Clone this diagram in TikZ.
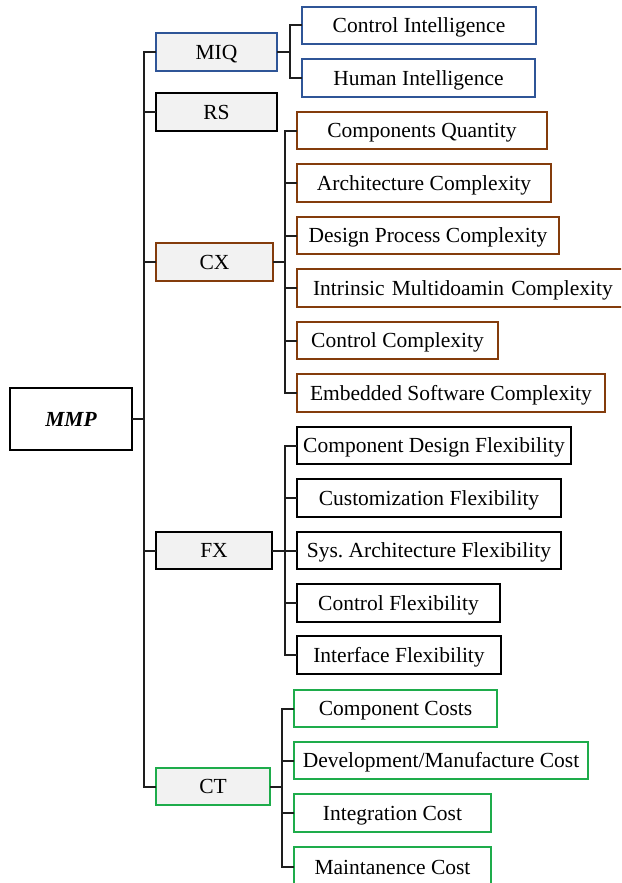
\documentclass[tikz,border=0pt]{standalone}
\usepackage{fontspec}
\setmainfont{Liberation Serif}
\frenchspacing
\definecolor{cblue}{RGB}{47,85,151}
\definecolor{cbrown}{RGB}{132,60,12}
\definecolor{cgreen}{RGB}{30,172,75}
\definecolor{cgray}{RGB}{242,242,242}
\definecolor{cline}{RGB}{30,30,30}
\begin{document}
\begin{tikzpicture}[x=1pt,y=-1pt,
  every node/.style={font=\fontsize{21.5}{25}\selectfont, inner sep=0pt, outer sep=0pt,
    text=black, text height=14.3pt, text depth=0pt},
  base/.style={draw, line width=1.7pt, rectangle, minimum height=37.5},
  lvl/.style={base, fill=cgray, minimum width=#1},
  leaf/.style={base, fill=white, minimum width=#1},
  conn/.style={draw=cline, line width=2pt}]
\useasboundingbox (0,0) rectangle (621,883);
\clip (0,0) rectangle (621,883);

% root
\node[draw=black, line width=2.8pt, fill=white, minimum width=122, minimum height=62,
      font=\fontsize{21.5}{25}\selectfont\bfseries\itshape] (mmp) at (71,419) {MMP};

% level 1
\node[lvl=121, draw=cblue]  (miq) at (216.5,52)    {MIQ};
\node[lvl=121, draw=black]  (rs)  at (216.5,112)   {RS};
\node[lvl=117, draw=cbrown] (cx)  at (214.5,262)   {CX};
\node[lvl=116, draw=black]  (fx)  at (214,550.5)   {FX};
\node[lvl=114, draw=cgreen] (ct)  at (213,786.5)   {CT};

% MIQ leaves
\node[leaf=234, draw=cblue] (ci) at (419,25.5) {Control Intelligence};
\node[leaf=233, draw=cblue] (hi) at (418.5,78) {Human Intelligence};

% CX leaves
\node[leaf=250, draw=cbrown] (cq) at (422,130.5)   {Components Quantity};
\node[leaf=254, draw=cbrown] (ac) at (424,183)     {Architecture Complexity};
\node[leaf=262, draw=cbrown] (dp) at (428,235.5)   {Design Process Complexity};
\node[leaf=334, draw=cbrown, text width=334, align=left] (im) at (464,288)
  {\hspace{16pt}Intrinsic Multidoamin Complexity};
\node[leaf=201, draw=cbrown] (cc) at (397.5,340.5) {Control Complexity};
\node[leaf=308, draw=cbrown] (es) at (451,393)     {Embedded Software Complexity};

% FX leaves
\node[leaf=274, draw=black] (cd)  at (434,445.5)  {Component Design Flexibility};
\node[leaf=264, draw=black] (cf)  at (429,498)    {Customization Flexibility};
\node[leaf=264, draw=black] (sa)  at (429,550.5)  {Sys. Architecture Flexibility};
\node[leaf=203, draw=black] (cfl) at (398.5,603)  {Control Flexibility};
\node[leaf=204, draw=black] (ifl) at (399,655)    {Interface Flexibility};

% CT leaves
\node[leaf=203, draw=cgreen] (cco) at (395.5,708.5) {Component Costs};
\node[leaf=294, draw=cgreen] (dm)  at (441,760.5)   {Development/Manufacture Cost};
\node[leaf=197, draw=cgreen] (ic)  at (392.5,813)   {Integration Cost};
\node[leaf=197, draw=cgreen, minimum height=40] (mc) at (392.5,867) {Maintanence Cost};

% trunk
\coordinate (t) at (144,0);
\path[conn] (miq.west) -- (miq.west -| t) -- (ct.west -| t) -- (ct.west);
\path[conn] (mmp.east) -- (mmp.east -| t);
\path[conn] (rs.west) -- (rs.west -| t);
\path[conn] (cx.west) -- (cx.west -| t);
\path[conn] (fx.west) -- (fx.west -| t);

% MIQ branch
\coordinate (b1) at (289.5,0);
\path[conn] (miq.east) -- (miq.east -| b1);
\path[conn] (ci.west) -- (ci.west -| b1) -- (hi.west -| b1) -- (hi.west);

% CX branch
\coordinate (b2) at (285,0);
\path[conn] (cx.east) -- (cx.east -| b2);
\path[conn] (cq.west) -- (cq.west -| b2) -- (es.west -| b2) -- (es.west);
\foreach \n in {ac,dp,im,cc} \path[conn] (\n.west) -- (\n.west -| b2);

% FX branch
\coordinate (b3) at (285,0);
\path[conn] (fx.east) -- (fx.east -| b3);
\path[conn] (cd.west) -- (cd.west -| b3) -- (ifl.west -| b3) -- (ifl.west);
\foreach \n in {cf,sa,cfl} \path[conn] (\n.west) -- (\n.west -| b3);

% CT branch
\coordinate (b4) at (282,0);
\path[conn] (ct.east) -- (ct.east -| b4);
\path[conn] (cco.west) -- (cco.west -| b4) -- (mc.west -| b4) -- (mc.west);
\foreach \n in {dm,ic} \path[conn] (\n.west) -- (\n.west -| b4);
\end{tikzpicture}
\end{document}
